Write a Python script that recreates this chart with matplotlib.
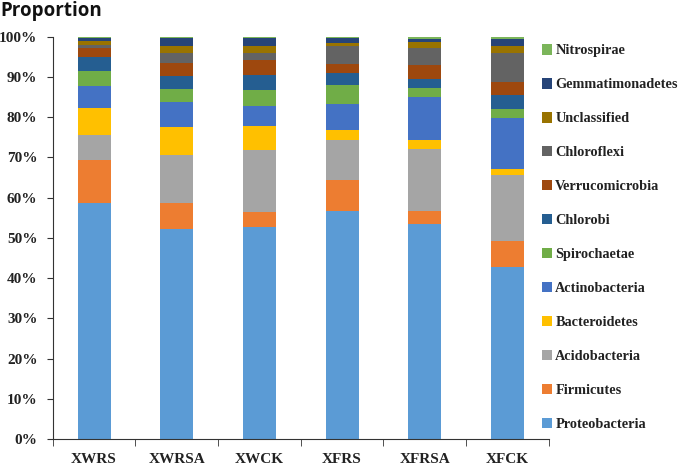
import matplotlib.pyplot as plt
import numpy as np

samples = ["XWRS", "XWRSA", "XWCK", "XFRS", "XFRSA", "XFCK"]

# percent of each phylum per sample (bottom to top of the stack)
proteobacteria   = [58.8, 52.3, 52.7, 56.6, 53.5, 42.7]
firmicutes       = [10.5, 6.3, 3.8, 7.8, 3.3, 6.6]
acidobacteria    = [6.4, 12.0, 15.4, 10.0, 15.3, 16.4]
bacteroidetes    = [6.5, 6.9, 6.0, 2.5, 2.3, 1.4]
actinobacteria   = [5.6, 6.2, 4.8, 6.4, 10.7, 12.6]
spirochaetae     = [3.7, 3.4, 4.0, 4.8, 2.1, 2.4]
chlorobi         = [3.4, 3.2, 3.8, 2.9, 2.4, 3.5]
verrucomicrobia  = [2.2, 3.3, 3.8, 2.2, 3.3, 3.1]
chloroflexi      = [0.9, 2.3, 1.6, 4.4, 4.3, 7.2]
unclassified     = [1.0, 1.7, 1.9, 0.8, 1.4, 1.9]
gemmatimonadetes = [0.7, 2.2, 1.8, 1.35, 0.9, 1.6]
nitrospirae      = [0.3, 0.2, 0.4, 0.25, 0.5, 0.6]

phyla = ["Proteobacteria", "Firmicutes", "Acidobacteria", "Bacteroidetes",
         "Actinobacteria", "Spirochaetae", "Chlorobi", "Verrucomicrobia",
         "Chloroflexi", "Unclassified", "Gemmatimonadetes", "Nitrospirae"]
values = [proteobacteria, firmicutes, acidobacteria, bacteroidetes,
          actinobacteria, spirochaetae, chlorobi, verrucomicrobia,
          chloroflexi, unclassified, gemmatimonadetes, nitrospirae]
colors = ["#5B9BD5", "#ED7D31", "#A5A5A5", "#FFC000", "#4472C4", "#70AD47",
          "#255E91", "#9E480E", "#636363", "#997300", "#264478", "#7BB55A"]

fig = plt.figure(figsize=(6.85, 4.66), dpi=100)
ax = fig.add_axes([0.077, 0.058, 0.724, 0.863])

x = np.arange(len(samples))
bottom = np.zeros(len(samples))
bars = []
for name, vals, c in zip(phyla, values, colors):
    b = ax.bar(x, vals, 0.4, bottom=bottom, color=c, label=name)
    bars.append(b)
    bottom += np.array(vals)

ax.set_xlim(-0.5, 5.5)
ax.set_ylim(0, 100)
ax.set_yticks(range(0, 101, 10))
ax.set_yticklabels([f"{v}%" for v in range(0, 101, 10)])
ax.set_xticks(x)
ax.set_xticklabels(samples)
ax.set_xticks(np.arange(-0.5, 6, 1), minor=True)
ax.tick_params(axis="x", which="major", length=0, pad=10)
ax.tick_params(axis="x", which="minor", length=5, direction="out", color="#333333")
ax.tick_params(axis="y", length=4, direction="out", color="#333333", pad=7)
for lab in ax.get_xticklabels():
    lab.set_fontfamily("Liberation Serif")
    lab.set_fontweight("bold")
    lab.set_fontsize(11)
    lab.set_color("#222222")
for lab in ax.get_yticklabels():
    lab.set_fontfamily("Liberation Serif")
    lab.set_fontweight("bold")
    lab.set_fontsize(11)
    lab.set_color("#222222")
ax.spines["top"].set_visible(False)
ax.spines["right"].set_visible(False)
ax.spines["left"].set_color("#333333")
ax.spines["bottom"].set_color("#333333")

fig.text(0.0, 0.997, "Proportion", fontfamily="Open Sans", fontweight="bold",
         fontsize=13.5, va="top", ha="left", color="#111111")

leg = fig.legend(bars[::-1], phyla[::-1], loc="upper left",
                 bbox_to_anchor=(0.772, 0.933), frameon=False,
                 prop={"family": "Liberation Serif", "weight": "bold", "size": 10.3},
                 handlelength=0.75, handleheight=0.75, handletextpad=0.2,
                 labelspacing=1.45)
for t in leg.get_texts():
    t.set_color("#222222")

fig.savefig("out.png", dpi=100)
